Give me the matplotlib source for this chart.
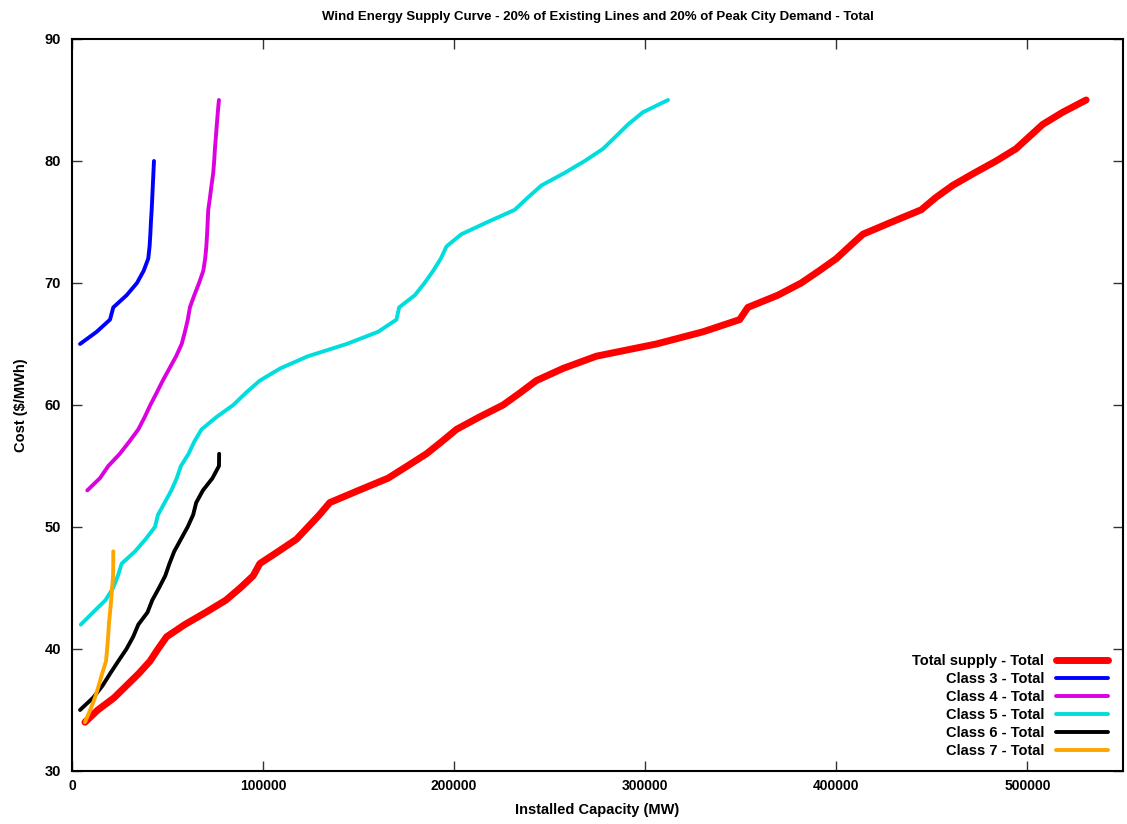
import matplotlib
matplotlib.use("Agg")
import matplotlib.pyplot as plt

plt.rcParams['font.family'] = ['Liberation Sans', 'DejaVu Sans']

# ---- data (cost $/MWh vs cumulative installed capacity MW) ----
total_cost = list(range(34, 86))
total_cap = [6800, 13500, 22000, 28500, 35000, 40800, 45000, 49500, 59000, 70000,
             80500, 88000, 94800, 98300, 108000, 117500, 123500, 129500, 134900, 150000,
             165400, 175500, 185500, 193500, 201200, 213000, 225600, 234500, 243000, 257000,
             274400, 305800, 330200, 349400, 353700, 369400, 381600, 391000, 400000, 406900,
             413900, 429000, 444400, 452000, 460900, 472000, 483600, 494000, 501000, 508000,
             518500, 530700]

c3_cost = list(range(65, 81))
c3_cap = [4200, 12900, 19900, 21600, 28600, 34000, 37500, 39900, 40600, 41000,
          41300, 41700, 42000, 42300, 42600, 42900]

c4_cost = list(range(53, 86))
c4_cap = [8000, 14600, 19000, 25000, 30000, 34700, 38000, 41000, 44300, 47500,
          51000, 54500, 57400, 59100, 60600, 61700, 64000, 66500, 68700, 69700,
          70300, 70700, 71000, 71300, 72200, 73000, 73900, 74400, 74800, 75300,
          75800, 76300, 76900]

c5_cost = list(range(42, 86))
c5_cap = [4600, 11000, 17500, 21500, 24000, 26000, 33000, 38500, 43400, 45000,
          48500, 52000, 54800, 57000, 61000, 64000, 67800, 75500, 84400, 91000,
          98300, 109000, 123500, 143700, 160200, 169800, 171200, 179400, 184500, 189000,
          193000, 196000, 203800, 217500, 231700, 238500, 245700, 257500, 268300, 277900,
          284500, 291000, 298800, 311900]

c6_cost = list(range(35, 57))
c6_cap = [4200, 11000, 16000, 20000, 24200, 28500, 32000, 34700, 39500, 42000,
          45500, 48800, 51000, 53500, 57000, 60500, 63400, 65000, 68500, 73500,
          76900, 77000]

c7_cost = list(range(34, 49))
c7_cap = [6800, 9500, 12000, 14000, 15800, 17800, 18400, 18900, 19300, 19900,
          20500, 21000, 21500, 21600, 21600]

labels = ['Total supply - Total', 'Class 3 - Total', 'Class 4 - Total',
          'Class 5 - Total', 'Class 6 - Total', 'Class 7 - Total']
colors = ['#ff0000', '#0000ff', '#dd00e0', '#00dddd', '#000000', '#ffa500']

fig = plt.figure(figsize=(11.27, 8.24), dpi=100)
ax = fig.add_axes([72/1127, 1-771/824, (1123-72)/1127, (771-39)/824])

series = [(total_cap, total_cost), (c3_cap, c3_cost), (c4_cap, c4_cost),
          (c5_cap, c5_cost), (c6_cap, c6_cost), (c7_cap, c7_cost)]
widths = [5.0, 2.8, 2.8, 2.8, 2.8, 2.8]
for (xs, ys), lab, col, lw in zip(series, labels, colors, widths):
    ax.plot(xs, ys, color=col, lw=lw, label=lab, solid_capstyle='round',
            solid_joinstyle='round')

ax.set_xlim(0, 550000)
ax.set_ylim(30, 90)
ax.set_xticks([0, 100000, 200000, 300000, 400000, 500000])
ax.set_yticks([30, 40, 50, 60, 70, 80, 90])
ax.tick_params(direction='in', length=7, width=1, top=True, right=True,
               labelsize=10, pad=6, color='#333333')
ax.tick_params(axis='y', labelsize=10.5, pad=8)
for lbl in ax.get_xticklabels() + ax.get_yticklabels():
    lbl.set_fontweight('bold')
for sp in ax.spines.values():
    sp.set_linewidth(1.5)

ax.set_xlabel('Installed Capacity (MW)', fontsize=10.5, fontweight='bold', labelpad=7)
ax.set_ylabel('Cost ($/MWh)', fontsize=10.5, fontweight='bold', labelpad=12)
ax.set_title('Wind Energy Supply Curve - 20% of Existing Lines and 20% of Peak City Demand - Total',
             fontsize=9.5, fontweight='bold', pad=14)

leg = ax.legend(loc='lower right', bbox_to_anchor=(0.986, 0.018), frameon=False,
                markerfirst=False, prop={'weight': 'bold', 'size': 10.5},
                handlelength=3.6, handletextpad=0.8, labelspacing=0.27,
                borderpad=0, borderaxespad=0)

fig.savefig('out.png', dpi=100)
